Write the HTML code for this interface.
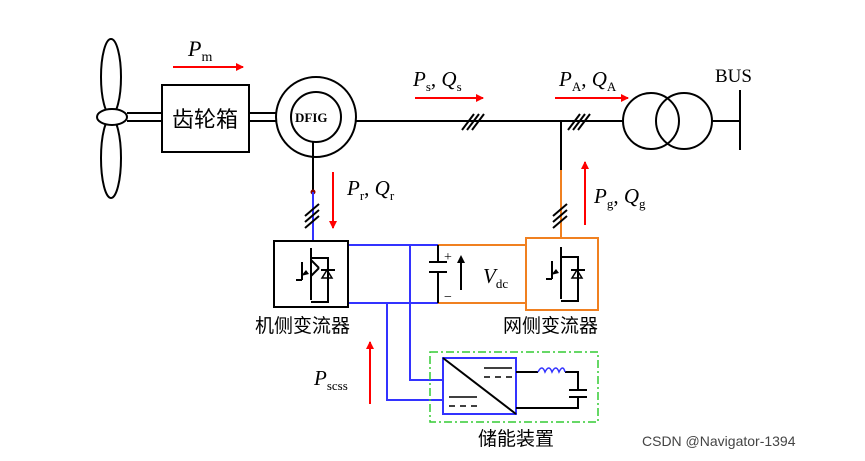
<!DOCTYPE html>
<html><head><meta charset="utf-8"><style>
body{margin:0;background:#fff;width:865px;height:456px;overflow:hidden}
text{font-family:"Liberation Serif","Noto Serif CJK SC",serif;fill:#000}
.cj{font-family:"Liberation Sans","Noto Sans CJK SC",sans-serif}
</style></head><body>
<svg width="865" height="456" viewBox="0 0 865 456" xmlns="http://www.w3.org/2000/svg">
<defs><marker id="a" markerWidth="8" markerHeight="8" refX="7" refY="4" orient="auto" markerUnits="userSpaceOnUse"><path d="M0,0 L8,4 L0,8 z" fill="#f00"/></marker></defs>
<g fill="none" stroke="#000" stroke-width="2">
<ellipse cx="111" cy="77" rx="10" ry="38"/>
<ellipse cx="111" cy="158" rx="10" ry="40"/>
<ellipse cx="112" cy="117" rx="15" ry="8" fill="#fff"/>
<line x1="127" y1="113" x2="162" y2="113"/><line x1="127" y1="121" x2="162" y2="121"/>
<rect x="162" y="85" width="87" height="67"/>
<line x1="249" y1="113" x2="277" y2="113"/><line x1="249" y1="121" x2="277" y2="121"/>
<circle cx="316" cy="117" r="40"/><circle cx="316" cy="117" r="25"/>
<line x1="356" y1="121" x2="623" y2="121"/>
<path d="M462,130 l12,-16 M467,130 l12,-16 M472,130 l12,-16"/>
<path d="M568,130 l12,-16 M573,130 l12,-16 M578,130 l12,-16"/>
<circle cx="651" cy="121" r="28"/><circle cx="684" cy="121" r="28"/>
<line x1="712" y1="121" x2="740" y2="121"/><line x1="740" y1="90" x2="740" y2="150"/>
<line x1="561" y1="121" x2="561" y2="170"/>
<line x1="313" y1="141" x2="313" y2="192"/>
</g>
<circle cx="313" cy="192" r="2.5" fill="#800"/>
<g stroke="#f08020" stroke-width="2" fill="none">
<line x1="561" y1="170" x2="561" y2="238"/>
<rect x="526" y="238" width="72" height="72"/>
<line x1="438" y1="245" x2="526" y2="245"/><line x1="438" y1="303" x2="526" y2="303"/>
</g>
<path d="M553,216 l14,-12 M553,222 l14,-12 M553,228 l14,-12" stroke="#000" stroke-width="2"/>
<g stroke="#33f" stroke-width="2" fill="none">
<line x1="313" y1="192" x2="313" y2="241"/>
<line x1="348" y1="245" x2="438" y2="245"/><line x1="348" y1="303" x2="438" y2="303"/>
<polyline points="410,245 410,380 443,380"/>
<polyline points="387,303 387,400 443,400"/>
<rect x="443" y="358" width="73" height="56"/>
</g>
<path d="M305,216 l14,-12 M305,222 l14,-12 M305,228 l14,-12" stroke="#000" stroke-width="2"/>
<g stroke="#000" stroke-width="2" fill="none">
<rect x="274" y="241" width="74" height="66"/>
<path d="M311,248 v12 l8,8 M311,288 v12 M311,276 l8,-8 M302,262 v18 M296,280 h6 M311,260 v28 M311,258 h17 v44 h-17 M321,270 h14"/>
<path d="M561,247 v12 M561,287 v12 M561,259 v28 M561,257 h17 v44 h-17 M552,261 v18 M546,279 h6 M571,270 h14"/>
<line x1="438" y1="245" x2="438" y2="262"/><line x1="438" y1="272" x2="438" y2="303"/>
<line x1="429" y1="262" x2="447" y2="262"/><line x1="429" y1="272" x2="447" y2="272"/>
<line x1="461" y1="290" x2="461" y2="260"/>
<line x1="443" y1="358" x2="516" y2="414"/>
<path d="M484,368 h28 M484,377 h6 M495,377 h6 M506,377 h6 M449,397 h28 M449,406 h6 M460,406 h6 M471,406 h6" stroke-width="1.5"/>
<polyline points="516,372 538,372"/><polyline points="565,372 578,372 578,390"/>
<line x1="569" y1="390" x2="587" y2="390"/><line x1="569" y1="397" x2="587" y2="397"/>
<polyline points="578,397 578,408 516,408"/>
</g>
<path d="M538,372 q4,-8 7,0 q4,-8 7,0 q4,-8 7,0 q4,-8 6,0" stroke="#33f" stroke-width="1.5" fill="none"/>
<path d="M461,255 l-4,8 h8z M301,276 l8,-2 l-3,-4z M551,275 l8,-2 l-3,-4z" fill="#000"/>
<path d="M322,278 h10 l-5,-8z M572,278 h10 l-5,-8z" fill="none" stroke="#000" stroke-width="1.5"/>
<rect x="430" y="352" width="168" height="70" fill="none" stroke="#3c3" stroke-width="1.5" stroke-dasharray="8,3,2,3"/>
<g stroke="#f00" stroke-width="2">
<line x1="173" y1="67" x2="243" y2="67" marker-end="url(#a)"/>
<line x1="415" y1="98" x2="483" y2="98" marker-end="url(#a)"/>
<line x1="555" y1="98" x2="628" y2="98" marker-end="url(#a)"/>
<line x1="333" y1="172" x2="333" y2="228" marker-end="url(#a)"/>
<line x1="585" y1="225" x2="585" y2="162" marker-end="url(#a)"/>
<line x1="370" y1="404" x2="370" y2="342" marker-end="url(#a)"/>
</g>
<text x="188" y="56" font-size="22" font-style="italic">P<tspan font-size="14" font-style="normal" dy="5">m</tspan></text>
<text class="cj" x="172" y="127" font-size="22">齿轮箱</text>
<text x="295" y="122" font-size="13" font-weight="bold">DFIG</text>
<text x="413" y="86" font-size="21" font-style="italic">P<tspan font-size="13" font-style="normal" dy="5">s</tspan><tspan dy="-5" font-style="normal">, </tspan>Q<tspan font-size="13" font-style="normal" dy="5">s</tspan></text>
<text x="559" y="86" font-size="21" font-style="italic">P<tspan font-size="13" font-style="normal" dy="5">A</tspan><tspan dy="-5" font-style="normal">, </tspan>Q<tspan font-size="13" font-style="normal" dy="5">A</tspan></text>
<text x="715" y="82" font-size="19">BUS</text>
<text x="347" y="195" font-size="21" font-style="italic">P<tspan font-size="13" font-style="normal" dy="5">r</tspan><tspan dy="-5" font-style="normal">, </tspan>Q<tspan font-size="13" font-style="normal" dy="5">r</tspan></text>
<text x="594" y="203" font-size="21" font-style="italic">P<tspan font-size="13" font-style="normal" dy="5">g</tspan><tspan dy="-5" font-style="normal">, </tspan>Q<tspan font-size="13" font-style="normal" dy="5">g</tspan></text>
<text x="483" y="283" font-size="21" font-style="italic">V<tspan font-size="13" font-style="normal" dy="5">dc</tspan></text>
<text x="444" y="261" font-size="14">+</text><text x="444" y="301" font-size="14">−</text>
<text x="314" y="385" font-size="21" font-style="italic">P<tspan font-size="13" font-style="normal" dy="5">scss</tspan></text>
<text class="cj" x="255" y="332" font-size="19">机侧变流器</text>
<text class="cj" x="503" y="332" font-size="19">网侧变流器</text>
<text class="cj" x="478" y="445" font-size="19">储能装置</text>
<text class="cj" x="642" y="446" font-size="14" style="fill:#444">CSDN @Navigator-1394</text>
</svg>
</body></html>
